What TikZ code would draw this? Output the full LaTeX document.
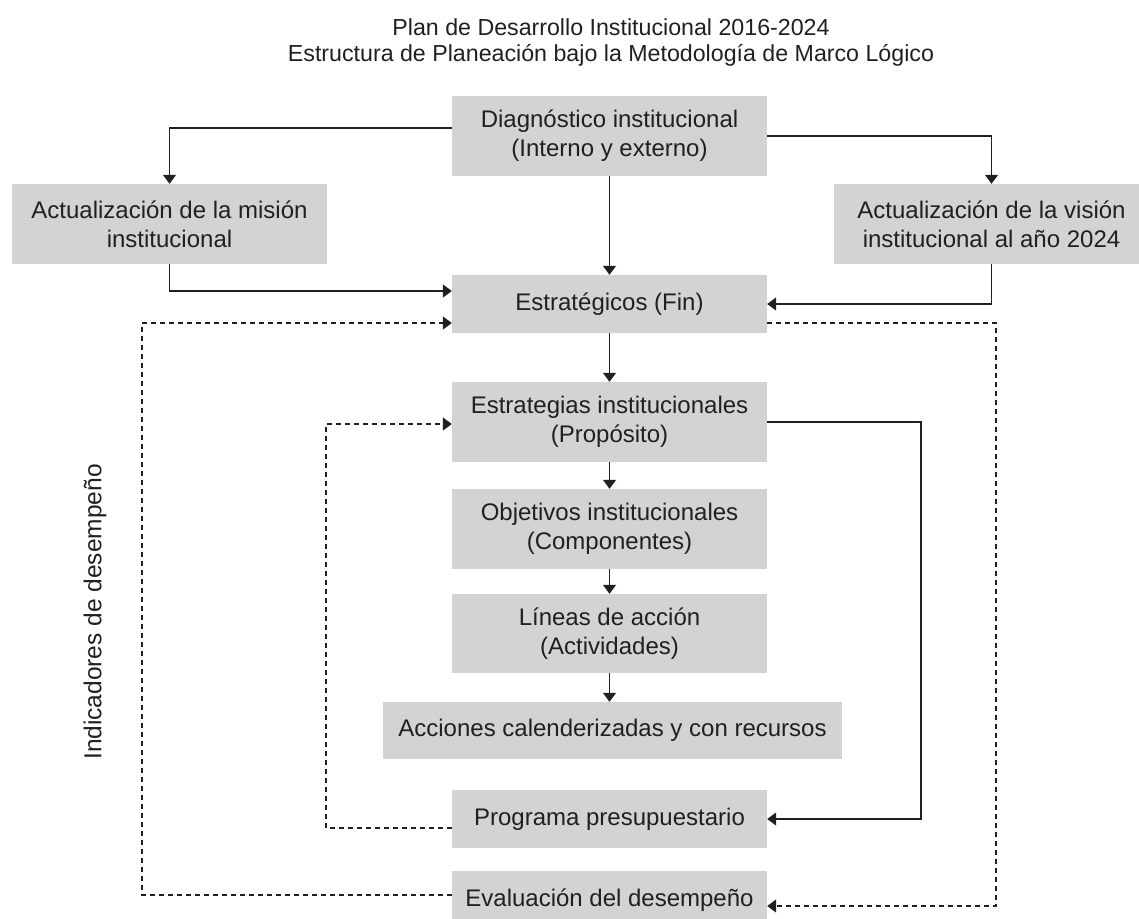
\documentclass[tikz,border=0pt]{standalone}
\usepackage{fontspec}
\setmainfont{Liberation Sans}
\usetikzlibrary{arrows.meta,calc}
\definecolor{boxgray}{HTML}{D1D3D4}
\definecolor{ink}{HTML}{231F20}
\tikzset{
  box/.style={fill=boxgray, draw=none, inner sep=0pt, align=center, text=ink,
    font=\fontsize{24}{29}\selectfont, minimum width=315pt, minimum height=80pt},
  conn/.style={draw=ink, line width=1.5pt},
  arr/.style={conn, -{Triangle[length=9pt,width=13pt]}},
  darr/.style={arr, dash pattern=on 5pt off 4pt},
  titletext/.style={text=ink, inner sep=0pt, font=\fontsize{23.2}{27}\selectfont}
}
\begin{document}
\begin{tikzpicture}[x=1pt,y=-1pt]
\useasboundingbox (0,0) rectangle (1139,918);
\node[titletext] (t1) at (611,27) {Plan de Desarrollo Institucional 2016-2024};
\node[titletext] (t2) at (611,55) {Estructura de Planeación bajo la Metodología de Marco Lógico};

\node[box] (diag) at (609.5,136) {Diagnóstico institucional\\(Interno y externo)};
\node[box] (mision) at (169.5,224) {Actualización de la misión\\institucional};
\node[box] (vision) at (991.5,224) {Actualización de la visión\\institucional al año 2024};
\node[box, minimum height=58pt] (fin) at (609.5,304) {Estratégicos (Fin)};
\node[box] (estr) at (609.5,422) {Estrategias institucionales\\(Propósito)};
\node[box] (obj) at (609.5,529) {Objetivos institucionales\\(Componentes)};
\node[box, minimum height=79pt] (lin) at (609.5,633.5) {Líneas de acción\\(Actividades)};
\node[box, minimum width=459pt, minimum height=57pt] (acc) at (612.5,730.5) {Acciones calenderizadas y con recursos};
\node[box, minimum height=58pt] (prog) at (609.5,819) {Programa presupuestario};
\node[box, minimum height=58pt] (eval) at (609.5,900) {Evaluación del desempeño};

\node[titletext, rotate=90, font=\fontsize{24.5}{28}\selectfont] (ind) at (95,612) {Indicadores de desempeño};

\coordinate (Lx) at (142,0);
\coordinate (Rx) at (996,0);
\coordinate (Ix) at (326,0);
\coordinate (Sx) at (921,0);

% solid connectors
\draw[arr] ([yshift=8pt]diag.west) -| (mision.north);
\draw[arr] (diag.east) -| (vision.north);
\draw[arr] (diag.south) -- (fin.north);
\draw[arr] (mision.south) |- ([yshift=13pt]fin.west);
\draw[arr] (vision.south) |- (fin.east);
\draw[arr] (fin.south) -- (estr.north);
\draw[arr] (estr.south) -- (obj.north);
\draw[arr] (obj.south) -- (lin.north);
\draw[arr] (lin.south) -- (lin.south |- acc.north);
\draw[arr] (estr.east) -- (estr.east -| Sx) |- (prog.east);

% dashed connectors
\draw[darr] ([yshift=5pt]eval.west) -- ([yshift=5pt]eval.west -| Lx) |- ([yshift=-19pt]fin.west);
\draw[darr] ([yshift=-19pt]fin.east) -- ([yshift=-19pt]fin.east -| Rx) |- ([yshift=-6pt]eval.east);
\draw[darr] ([yshift=-9pt]prog.west) -- ([yshift=-9pt]prog.west -| Ix) |- ([yshift=-2pt]estr.west);
\end{tikzpicture}
\end{document}
